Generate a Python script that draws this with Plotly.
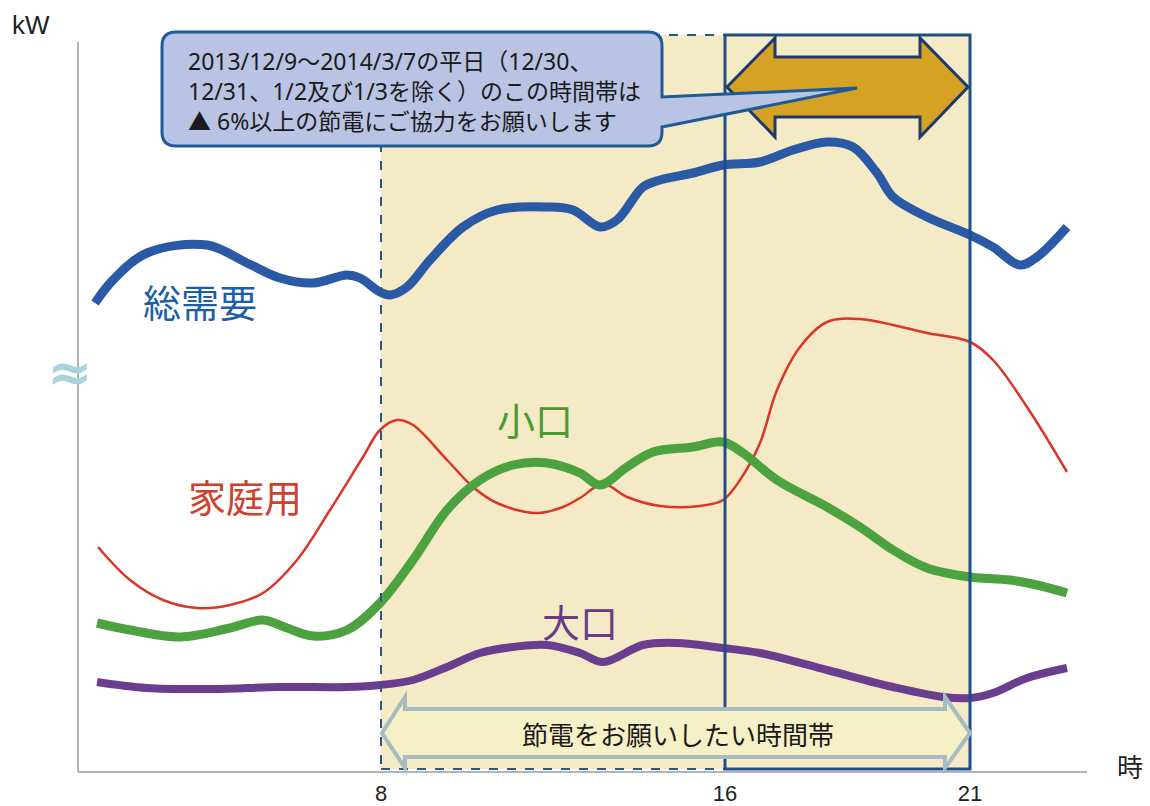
import plotly.graph_objects as go

# ---- data (x: position along the time axis, y: relative kW) ----
total_x = [95, 113, 147, 207, 247, 280, 313, 347, 360, 380, 390, 407, 430, 463, 497, 547, 573, 600,
           617, 643, 660, 693, 723, 760, 793, 827, 853, 877, 893, 927, 970, 993, 1020, 1037, 1067]
total_y = [469, 492, 519, 527, 509, 494, 489, 497, 494, 480, 477, 485, 512, 545, 562, 565, 562, 545,
           552, 585, 592, 599, 607, 610, 622, 630, 625, 599, 575, 555, 537, 525, 507, 515, 545]

home_x = [98, 130, 163, 197, 230, 263, 297, 330, 363, 380, 397, 413, 447, 473, 497, 537, 563, 580,
          603, 627, 660, 700, 723, 740, 760, 777, 800, 827, 860, 893, 927, 970, 993, 1027, 1067]
home_y = [225, 192, 172, 164, 167, 179, 212, 262, 315, 342, 352, 347, 312, 285, 269, 259, 265, 274,
          288, 275, 266, 266, 272, 292, 329, 382, 425, 450, 453, 447, 439, 430, 412, 365, 300]

small_x = [97, 130, 180, 230, 263, 287, 313, 347, 380, 413, 447, 480, 513, 547, 580, 600, 627, 653,
           693, 723, 743, 777, 827, 860, 893, 927, 970, 1010, 1037, 1067]
small_y = [149, 142, 135, 144, 152, 144, 136, 142, 169, 212, 262, 292, 307, 309, 299, 287, 305, 320,
           325, 330, 319, 292, 265, 245, 222, 204, 195, 192, 187, 179]

large_x = [97, 147, 213, 280, 347, 380, 413, 447, 480, 513, 547, 580, 603, 643, 677, 723, 760, 827,
           893, 943, 970, 993, 1027, 1067]
large_y = [90, 84, 83, 85, 85, 87, 92, 105, 119, 125, 127, 119, 110, 127, 129, 124, 119, 102,
           85, 75, 74, 79, 94, 104]

tick_pos = [381, 725, 970]
tick_text = ["8", "16", "21"]

callout_lines = ["2013/12/9～2014/3/7の平日（12/30、",
                 "12/31、1/2及び1/3を除く）のこの時間帯は",
                 "▲ 6%以上の節電にご協力をお願いします"]
band_label = "節電をお願いしたい時間帯"

FONT = "Noto Sans CJK JP, Noto Sans, sans-serif"
FONT_MIX = "Liberation Sans, Noto Sans CJK JP, sans-serif"
FONT_CALLOUT = "Noto Sans, Noto Sans CJK JP, sans-serif"

# layout geometry (pixels)
W, H = 1150, 806
ML, MR, MT, MB = 70, 50, 20, 26
XR = [70, 1100]
YR = [-8, 752]


def py(p):  # picture pixel row -> y data
    return 772 - p


def paper_x(p):
    return (p - ML) / (W - ML - MR)


def paper_y(p):
    return (H - MB - p) / (H - MT - MB)


fig = go.Figure()

series = [
    (total_x, total_y, "#2a5aa5", 9, "総需要"),
    (home_x, home_y, "#dc3426", 2.5, "家庭用"),
    (small_x, small_y, "#4ca23e", 9, "小口"),
    (large_x, large_y, "#6b3d8f", 8, "大口"),
]
for xs, ys, col, w, name in series:
    fig.add_trace(go.Scatter(x=xs, y=ys, mode="lines", name=name,
                             line=dict(color=col, width=w, shape="spline", smoothing=1.0),
                             hoverinfo="skip", showlegend=False))

shapes = []
# shaded request band
shapes.append(dict(type="rect", xref="x", yref="y", x0=381, x1=970, y0=py(769), y1=py(35),
                   fillcolor="#f4eac6", line=dict(width=0), layer="below"))
# dashed frame 8-16
for (x0, y0, x1, y1) in [(381, py(35), 725, py(35)), (381, py(769), 725, py(769)),
                         (381, py(35), 381, py(769))]:
    shapes.append(dict(type="line", xref="x", yref="y", x0=x0, y0=y0, x1=x1, y1=y1,
                       line=dict(color="#2b5585", width=2, dash="dash"), layer="above"))
# solid frame 16-21
shapes.append(dict(type="rect", xref="x", yref="y", x0=725, x1=970, y0=py(769), y1=py(35),
                   fillcolor="rgba(0,0,0,0)", line=dict(color="#1f4f8a", width=3), layer="above"))
# axes
shapes.append(dict(type="line", xref="x", yref="y", x0=78, x1=78, y0=0, y1=py(42),
                   line=dict(color="#9a9a9a", width=1.5), layer="above"))
shapes.append(dict(type="line", xref="x", yref="y", x0=78, x1=1087, y0=0, y1=0,
                   line=dict(color="#9a9a9a", width=1.5), layer="above"))

# gold double arrow
gold = [(727, 87), (775, 38), (775, 57), (920, 57), (920, 38), (968, 87),
        (920, 137), (920, 117), (775, 117), (775, 137)]
path = "M " + " L ".join(f"{x},{py(y)}" for x, y in gold) + " Z"
shapes.append(dict(type="path", xref="x", yref="y", path=path, fillcolor="#d6a223",
                   line=dict(color="#1c3a6c", width=3), layer="above"))

# bottom light arrow
lt = [(382, 733), (405, 697), (405, 709), (945, 709), (945, 697), (970, 733),
      (945, 768), (945, 757), (405, 757), (405, 768)]
path = "M " + " L ".join(f"{x},{py(y)}" for x, y in lt) + " Z"
shapes.append(dict(type="path", xref="x", yref="y", path=path, fillcolor="#f6f0c6",
                   line=dict(color="#a6bcc2", width=4), layer="above"))

# callout box with tail
x0, x1, t, b, r = 162, 662, 32, 146, 14
cp = (f"M {x0+r},{py(t)} L {x1-r},{py(t)} Q {x1},{py(t)} {x1},{py(t+r)} "
      f"L {x1},{py(97)} L 857,{py(88)} L {x1},{py(127)} "
      f"L {x1},{py(b-r)} Q {x1},{py(b)} {x1-r},{py(b)} L {x0+r},{py(b)} "
      f"Q {x0},{py(b)} {x0},{py(b-r)} L {x0},{py(t+r)} Q {x0},{py(t)} {x0+r},{py(t)} Z")
shapes.append(dict(type="path", xref="x", yref="y", path=cp, fillcolor="#b9c3e3",
                   line=dict(color="#1e5a96", width=3), layer="above"))

annotations = []
annotations.append(dict(x=186, y=py(91), xref="x", yref="y", text="<br>".join(callout_lines),
                        showarrow=False, xanchor="left", yanchor="middle", align="left",
                        font=dict(family=FONT_CALLOUT, size=23, color="#1a1a1a")))
annotations.append(dict(x=678, y=py(733), xref="x", yref="y", text=band_label, showarrow=False,
                        xanchor="center", yanchor="middle",
                        font=dict(family=FONT, size=26, color="#1a1a1a")))
for txt, x, y, col in [("総需要", 200, 300, "#1e5ea8"), ("家庭用", 245, 495, "#d0402c"),
                       ("小口", 535, 418, "#4a9a2e"), ("大口", 580, 620, "#6a3a88")]:
    annotations.append(dict(x=x, y=py(y), xref="x", yref="y", text=txt, showarrow=False,
                            xanchor="center", yanchor="middle",
                            font=dict(family=FONT, size=38, color=col)))
annotations.append(dict(x=paper_x(31), y=paper_y(25), xref="paper", yref="paper", text="kW",
                        showarrow=False, xanchor="center", yanchor="middle",
                        font=dict(family=FONT_MIX, size=26, color="#222")))
annotations.append(dict(x=paper_x(1130), y=paper_y(765), xref="paper", yref="paper", text="時",
                        showarrow=False, xanchor="center", yanchor="middle",
                        font=dict(family=FONT, size=26, color="#222")))
annotations.append(dict(x=paper_x(69), y=paper_y(372), xref="paper", yref="paper", text="<b>≈</b>",
                        showarrow=False, xanchor="center", yanchor="middle",
                        font=dict(family="DejaVu Sans", size=54, color="#a8d2dc")))

fig.update_layout(
    width=W, height=H,
    margin=dict(l=ML, r=MR, t=MT, b=MB, autoexpand=False),
    paper_bgcolor="white", plot_bgcolor="white",
    shapes=shapes, annotations=annotations,
    xaxis=dict(range=XR, showgrid=False, zeroline=False, showline=False, automargin=False,
               tickmode="array", tickvals=tick_pos, ticktext=tick_text, ticks="",
               ticklabelstandoff=-2,
               tickfont=dict(family=FONT_MIX, size=22, color="#222")),
    yaxis=dict(range=YR, showgrid=False, zeroline=False, showline=False, showticklabels=False,
               automargin=False),
)

fig.write_html("out.html", config={"displayModeBar": False},
               post_script="document.body.style.margin='0';")
